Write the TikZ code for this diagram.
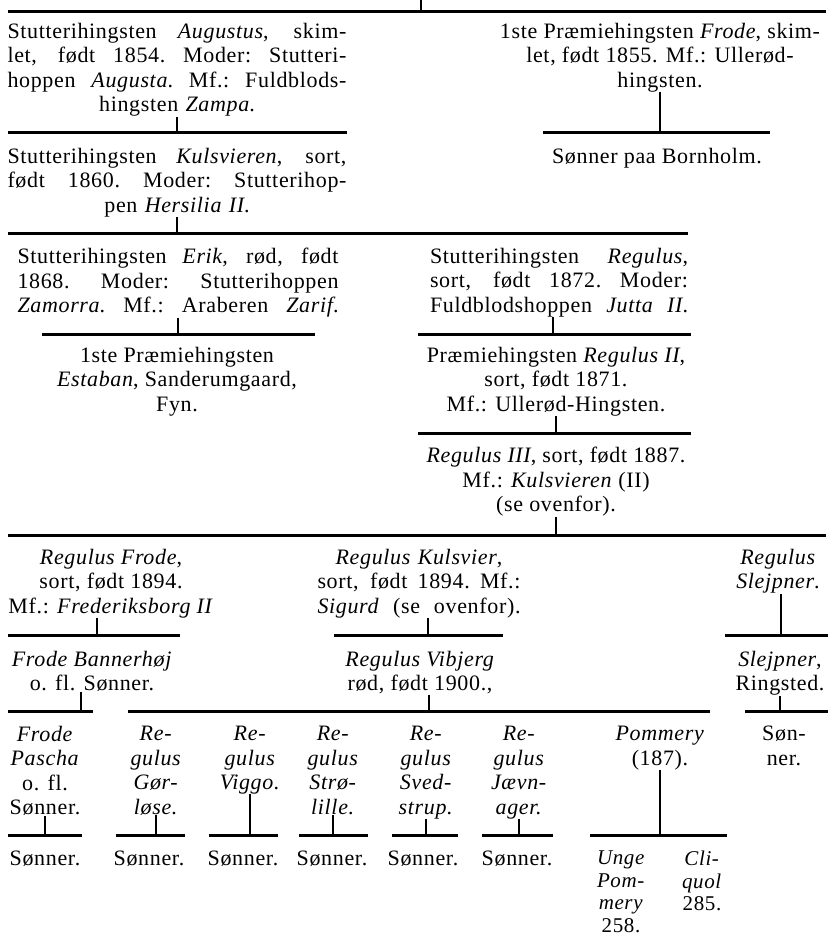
\documentclass[tikz,border=0pt]{standalone}
\usepackage{fontspec}
\setmainfont{Liberation Serif}[LetterSpace = 3]

\newcommand{\chartfont}{\fontsize{22}{24.5}\selectfont}
\newcommand{\jl}[1]{\makebox[\hsize][s]{\spaceskip = .25em plus 1fil\relax
  \xspaceskip = .25em plus 1fil\relax #1}} % one justified line

\begin{document}
\begin{tikzpicture}[x = 1pt, y = -1pt, % one unit per pixel, y runs down
                rule/.style = {line width = 3pt}, % the long bars
                tick/.style = {line width = 2.2pt} % the stems
            ]

            \tikzstyle{every node}=[inner sep = 0pt, align = center,
            font = \chartfont]

            \useasboundingbox (0,0) rectangle (830,936);

            % first bar
            \coordinate (top) at (421,0);
            \coordinate (r0w) at (8,12); \coordinate (r0e) at (826,12);
            \draw[rule] (r0w) -- (r0e); \draw[tick] (top) -- (top |- r0w);

            \node[anchor = north, text width = 339pt] (aug) at (177,23)
            {\jl{Stutterihingsten \textit{Augustus}, skim-}\\
             \jl{let, født 1854. Moder: Stutteri-}\\
             \jl{hoppen \textit{Augusta}. Mf.: Fuldblods-}\\
             hingsten \textit{Zampa}.};
            \node[anchor = north] (fro) at (660,23)
            {1ste Præmiehingsten \textit{Frode}, skim-\\
             let, født 1855. Mf.: Ullerød-\\ hingsten.};

            \coordinate (r1w) at (8,133); \coordinate (r1e) at (347,133);
            \coordinate (r1bw) at (543,133); \coordinate (r1be) at (770,133);
            \draw[rule] (r1w) -- (r1e); \draw[rule] (r1bw) -- (r1be);
            \draw[tick] (aug.south) -- (aug.south |- r1w);
            \draw[tick] (fro.south) -- (fro.south |- r1bw);

            \node[anchor = north] (bor) at (657,148) {Sønner paa Bornholm.};
            \node[anchor = north, text width = 339pt] (kul) at (177,148)
            {\jl{Stutterihingsten \textit{Kulsvieren}, sort,}\\
             \jl{født 1860. Moder: Stutterihop-}\\
             pen \textit{Hersilia II}.};

            \coordinate (r2w) at (8,233); \coordinate (r2e) at (688,233);
            \draw[rule] (r2w) -- (r2e);
            \draw[tick] (kul.south) -- (kul.south |- r2w);

            % Erik and Regulus
            \node[anchor = north, text width = 321pt] (eri) at (178,248)
            {\jl{Stutterihingsten \textit{Erik}, rød, født}\\
             \jl{1868. Moder: Stutterihoppen}\\
             \jl{\textit{Zamorra}. Mf.: Araberen \textit{Zarif}.}};
            \node[anchor = north, text width = 258pt] (reg) at (559,248)
            {\jl{Stutterihingsten \textit{Regulus},}\\
             \jl{sort, født 1872. Moder:}\\
             \jl{Fuldblodshoppen \textit{Jutta II}.}};

            \coordinate (r3aw) at (42,334); \coordinate (r3ae) at (315,334);
            \coordinate (r3bw) at (418,334); \coordinate (r3be) at (691,334);
            \coordinate (regt) at ([xshift = -6pt]reg.south);
            \draw[rule] (r3aw) -- (r3ae); \draw[rule] (r3bw) -- (r3be);
            \draw[tick] (eri.south) -- (eri.south |- r3aw);
            \draw[tick] (regt) -- (regt |- r3bw);

            \node[anchor = north] (est) at (177,347)
            {1ste Præmiehingsten\\ \textit{Estaban}, Sanderumgaard,\\ Fyn.};
            \node[anchor = north] (re2) at (556,347)
            {Præmiehingsten \textit{Regulus II},\\ sort, født 1871.\\
             Mf.: Ullerød-Hingsten.};

            \coordinate (r4w) at (418,433); \coordinate (r4e) at (691,433);
            \draw[rule] (r4w) -- (r4e);
            \draw[tick] (re2.south) -- (re2.south |- r4w);

            \node[anchor = north] (re3) at (556,447)
            {\textit{Regulus III}, sort, født 1887.\\
             Mf.: \textit{Kulsvieren} (II)\\ (se ovenfor).};

            \coordinate (r5w) at (8,535); \coordinate (r5e) at (826,535);
            \draw[rule] (r5w) -- (r5e);
            \draw[tick] (re3.south) -- (re3.south |- r5w);

            % sons of Regulus III
            \node[anchor = north] (rfr) at (111,549)
            {\textit{Regulus Frode},\\ sort, født 1894.\\
             Mf.: \textit{Frederiksborg II}};
            \node[anchor = north, text width = 203pt] (rku) at (419,549)
            {\textit{Regulus Kulsvier},\\ \jl{sort, født 1894. Mf.:}\\
             \jl{\textit{Sigurd} (se ovenfor).}};
            \node[anchor = north] (rsl) at (778,549)
            {\textit{Regulus}\\ \textit{Slejpner}.};

            \coordinate (r6aw) at (8,635); \coordinate (r6ae) at (180,635);
            \coordinate (r6bw) at (334,635); \coordinate (r6be) at (503,635);
            \coordinate (r6cw) at (725,635); \coordinate (r6ce) at (828,635);
            \coordinate (rfrt) at ([xshift = -14pt]rfr.south);
            \coordinate (rkut) at ([xshift = 9pt]rku.south);
            \coordinate (rslt) at ([xshift = 3pt]rsl.south);
            \draw[rule] (r6aw) -- (r6ae); \draw[rule] (r6bw) -- (r6be);
            \draw[rule] (r6cw) -- (r6ce);
            \draw[tick] (rfrt) -- (rfrt |- r6aw);
            \draw[tick] (rkut) -- (rkut |- r6bw);
            \draw[tick] (rslt) -- (rslt |- r6cw);

            \node[anchor = north] (ban) at (92,651)
            {\textit{Frode Bannerhøj}\\ o. fl. Sønner.};
            \node[anchor = north] (vib) at (420,651)
            {\textit{Regulus Vibjerg}\\ rød, født 1900.,};
            \node[anchor = north] (sle) at (780,651)
            {\textit{Slejpner},\\ Ringsted.};

            \coordinate (r7aw) at (8,711); \coordinate (r7ae) at (93,711);
            \coordinate (r7bw) at (128,711); \coordinate (r7be) at (710,711);
            \coordinate (r7cw) at (745,711); \coordinate (r7ce) at (828,711);
            \coordinate (bant) at ([xshift = -11pt]ban.south);
            \coordinate (vibt) at ([xshift = 9pt]vib.south);
            \draw[rule] (r7aw) -- (r7ae); \draw[rule] (r7bw) -- (r7be);
            \draw[rule] (r7cw) -- (r7ce);
            \draw[tick] (bant) -- (bant |- r7aw);
            \draw[tick] (vibt) -- (vibt |- r7bw);
            \draw[tick] (sle.south) -- (sle.south |- r7cw);

            % last rows
            \node[anchor = north] (pas) at (45,726)
            {\textit{Frode}\\ \textit{Pascha}\\ o. fl.\\ Sønner.};
            \node[anchor = north] (gor) at (156,726)
            {\textit{Re-}\\ \textit{gulus}\\ \textit{Gør-}\\ \textit{løse.}};
            \node[anchor = north] (vig) at (250,726)
            {\textit{Re-}\\ \textit{gulus}\\ \textit{Viggo.}};
            \node[anchor = north] (str) at (333,726)
            {\textit{Re-}\\ \textit{gulus}\\ \textit{Strø-}\\ \textit{lille.}};
            \node[anchor = north] (sve) at (426,726)
            {\textit{Re-}\\ \textit{gulus}\\ \textit{Sved-}\\ \textit{strup.}};
            \node[anchor = north] (jae) at (519,726)
            {\textit{Re-}\\ \textit{gulus}\\ \textit{Jævn-}\\ \textit{ager.}};
            \node[anchor = north] (pom) at (660,726)
            {\textit{Pommery}\\ (187).};
            \node[anchor = north] (son) at (784,726) {Søn-\\ ner.};

            \coordinate (r8aw) at (8,835); \coordinate (r8ae) at (82,835);
            \coordinate (r8bw) at (116,835); \coordinate (r8be) at (185,835);
            \coordinate (r8cw) at (209,835); \coordinate (r8ce) at (278,835);
            \coordinate (r8dw) at (299,835); \coordinate (r8de) at (368,835);
            \coordinate (r8ew) at (392,835); \coordinate (r8ee) at (458,835);
            \coordinate (r8fw) at (482,835); \coordinate (r8fe) at (553,835);
            \coordinate (r8gw) at (590,835); \coordinate (r8ge) at (727,835);
            \draw[rule] (r8aw) -- (r8ae); \draw[rule] (r8bw) -- (r8be);
            \draw[rule] (r8cw) -- (r8ce); \draw[rule] (r8dw) -- (r8de);
            \draw[rule] (r8ew) -- (r8ee); \draw[rule] (r8fw) -- (r8fe);
            \draw[rule] (r8gw) -- (r8ge);
            \draw[tick] (pas.south) -- (pas.south |- r8aw);
            \draw[tick] (gor.south) -- (gor.south |- r8bw);
            \draw[tick] (vig.south) -- (vig.south |- r8cw);
            \draw[tick] (str.south) -- (str.south |- r8dw);
            \draw[tick] (sve.south) -- (sve.south |- r8ew);
            \draw[tick] (jae.south) -- (jae.south |- r8fw);
            \draw[tick] (pom.south) -- (pom.south |- r8gw);

            \node[anchor = north] (s1) at (45,851) {Sønner.};
            \node[anchor = north] (s2) at (149,851) {Sønner.};
            \node[anchor = north] (s3) at (243,851) {Sønner.};
            \node[anchor = north] (s4) at (332,851) {Sønner.};
            \node[anchor = north] (s5) at (423,851) {Sønner.};
            \node[anchor = north] (s6) at (517,851) {Sønner.};
            \node[anchor = north, font = \fontsize{21}{22.5}\selectfont]
            (ung) at (621,851)
            {\textit{Unge}\\ \textit{Pom-}\\ \textit{mery}\\ 258.};
            \node[anchor = north, font = \fontsize{21}{22.5}\selectfont]
            (cli) at (702,851) {\textit{Cli-}\\ \textit{quol}\\ 285.};
        \end{tikzpicture}
\end{document}
